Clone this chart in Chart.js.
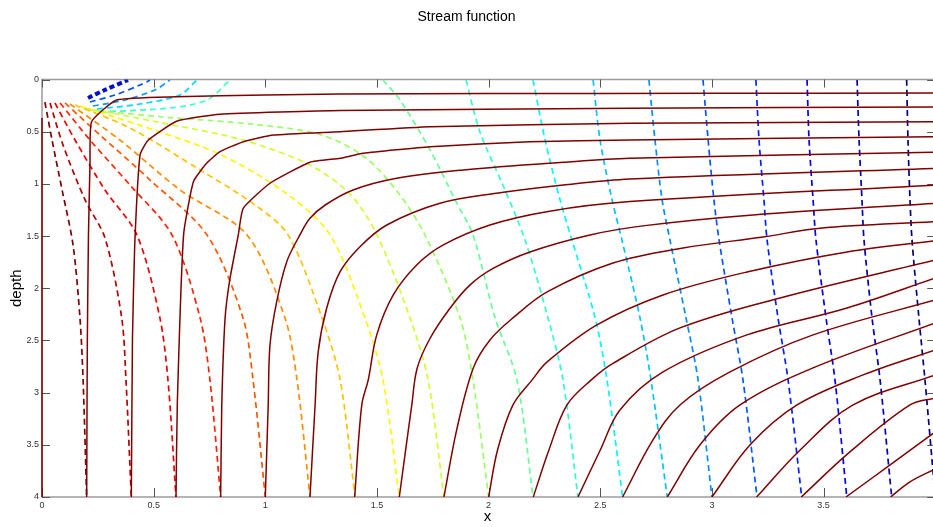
<!DOCTYPE html>
<html>
<head>
<meta charset="utf-8">
<script src="https://cdn.jsdelivr.net/npm/chart.js@4.4.0/dist/chart.umd.min.js"></script>
<style>
html, body { margin: 0; padding: 0; background: #fff; }
</style>
</head>
<body>
<canvas id="myChart" width="933" height="527"></canvas>
<script>
// axis ticks
var xTicks = [0, 0.5, 1, 1.5, 2, 2.5, 3, 3.5];
var yTicks = [0, 0.5, 1, 1.5, 2, 2.5, 3, 3.5, 4];

// stream lines (solid), [x, depth]
var s0 = [[0, 0.37], [0, 4]];
var s1 = [[0.2, 4], [0.203, 2.5], [0.208, 1.5], [0.215, 0.8], [0.222, 0.404], [0.334, 0.196], [0.6, 0.165], [1.0, 0.148], [1.335, 0.139], [2.0, 0.135], [3.0, 0.132], [4.0, 0.13]];
var s2 = [[0.4, 4], [0.405, 2.5], [0.415, 1.6], [0.439, 0.723], [0.476, 0.58], [0.603, 0.4], [0.797, 0.333], [1.335, 0.297], [2.633, 0.276], [4.0, 0.263]];
var s3 = [[0.6, 4], [0.606, 3.1], [0.634, 1.489], [0.678, 0.979], [0.737, 0.803], [0.797, 0.692], [0.902, 0.596], [1.036, 0.532], [1.335, 0.5], [1.738, 0.452], [2.633, 0.42], [4.0, 0.405]];
var s4 = [[0.8, 4], [0.805, 3.118], [0.82, 2.284], [0.842, 1.904], [0.879, 1.489], [0.901, 1.234], [1.021, 0.994], [1.2, 0.793], [1.335, 0.755], [1.438, 0.707], [1.738, 0.644], [2.185, 0.596], [2.633, 0.58], [4.0, 0.548]];
var s5 = [[1.0, 4], [1.013, 3.118], [1.021, 2.543], [1.051, 2.128], [1.096, 1.745], [1.155, 1.489], [1.2, 1.33], [1.27, 1.2], [1.393, 1.058], [1.588, 0.946], [1.887, 0.867], [2.333, 0.793], [2.633, 0.755], [4.0, 0.697]];
var s6 = [[1.2, 4], [1.223, 3.118], [1.237, 2.607], [1.275, 2.189], [1.335, 1.841], [1.424, 1.602], [1.544, 1.394], [1.782, 1.186], [2.036, 1.09], [2.335, 1.011], [2.633, 0.953], [4.0, 0.851]];
var s7 = [[1.4, 4], [1.432, 3.118], [1.461, 2.878], [1.499, 2.447], [1.573, 2.064], [1.678, 1.777], [1.797, 1.585], [2.006, 1.394], [2.26, 1.266], [2.633, 1.17], [4.0, 1.011]];
var s8 = [[1.6, 4], [1.656, 3.118], [1.68, 2.766], [1.738, 2.479], [1.827, 2.192], [1.917, 1.968], [2.02, 1.81], [2.185, 1.652], [2.454, 1.489], [2.7, 1.4], [3.184, 1.298], [4.0, 1.186]];
var s9 = [[1.8, 4], [1.857, 3.357], [1.931, 2.766], [2.006, 2.495], [2.109, 2.284], [2.262, 2.035], [2.557, 1.758], [2.871, 1.614], [3.229, 1.509], [3.484, 1.425], [4.0, 1.362]];
var s10 = [[2.0, 4], [2.04, 3.55], [2.109, 3.118], [2.195, 2.878], [2.262, 2.706], [2.485, 2.351], [2.781, 2.064], [3.157, 1.844], [3.605, 1.652], [4.0, 1.544]];
var s11 = [[2.2, 4], [2.27, 3.55], [2.351, 3.118], [2.46, 2.878], [2.557, 2.72], [2.857, 2.38], [3.305, 2.093], [4.0, 1.729]];
var s12 = [[2.4, 4], [2.5, 3.55], [2.588, 3.166], [2.781, 2.802], [3.157, 2.447], [3.605, 2.189], [4.0, 1.901]];
var s13 = [[2.6, 4], [2.736, 3.453], [2.857, 3.118], [3.081, 2.802], [3.453, 2.447], [4.0, 2.112]];
var s14 = [[2.8, 4], [2.947, 3.5], [3.126, 3.118], [3.453, 2.763], [4.0, 2.332]];
var s15 = [[3.0, 4], [3.171, 3.5], [3.381, 3.118], [3.677, 2.83], [4.0, 2.591]];
var s16 = [[3.2, 4], [3.395, 3.549], [3.632, 3.118], [4.0, 2.83]];
var s17 = [[3.4, 4], [3.618, 3.568], [3.887, 3.118], [4.0, 3.05]];
var s18 = [[3.6, 4], [3.798, 3.693], [4.0, 3.376]];
var s19 = [[3.8, 4], [3.887, 3.855], [4.0, 3.731]];

// potential lines (dashed), [x, depth]
var p1 = [[0.013, 0.216], [0.045, 0.58], [0.09, 1.058], [0.139, 1.585], [0.17, 2.284], [0.184, 2.878], [0.2, 4]];
var p2 = [[0.036, 0.225], [0.094, 0.627], [0.193, 1.154], [0.282, 1.518], [0.357, 2.284], [0.376, 2.878], [0.4, 4]];
var p3 = [[0.058, 0.225], [0.148, 0.58], [0.282, 1.058], [0.425, 1.489], [0.528, 2.284], [0.564, 2.878], [0.6, 4]];
var p4 = [[0.081, 0.225], [0.215, 0.58], [0.394, 1.011], [0.582, 1.489], [0.708, 2.284], [0.752, 2.878], [0.8, 4]];
var p5 = [[0.103, 0.225], [0.26, 0.532], [0.484, 0.963], [0.739, 1.489], [0.9, 2.284], [0.945, 2.878], [1.0, 4]];
var p6 = [[0.125, 0.235], [0.349, 0.58], [0.618, 1.058], [0.918, 1.489], [1.088, 2.284], [1.142, 2.878], [1.2, 4]];
var p7 = [[0.148, 0.244], [0.394, 0.465], [0.708, 0.867], [0.954, 1.202], [1.102, 1.489], [1.254, 2.284], [1.335, 2.878], [1.402, 4]];
var p8 = [[0.17, 0.254], [0.44, 0.44], [0.8, 0.72], [1.1, 1.1], [1.29, 1.489], [1.446, 2.284], [1.527, 2.878], [1.6, 4]];
var p9 = [[0.188, 0.273], [0.5, 0.4], [0.9, 0.58], [1.2, 0.82], [1.38, 1.1], [1.5, 1.489], [1.648, 2.284], [1.729, 2.878], [1.8, 4]];
var p10 = [[0.206, 0.292], [0.55, 0.36], [0.95, 0.43], [1.25, 0.53], [1.45, 0.75], [1.6, 1.1], [1.715, 1.489], [1.872, 2.284], [1.93, 2.878], [2.0, 4]];
var p11 = [[1.527, 0.005], [1.603, 0.196], [1.738, 0.675], [1.85, 1.154], [1.93, 1.489], [2.029, 2.284], [2.127, 2.878], [2.199, 4]];
var p12 = [[1.899, 0.005], [1.961, 0.503], [2.064, 1.011], [2.163, 1.537], [2.266, 2.284], [2.333, 2.878], [2.4, 4]];
var p13 = [[2.199, 0.005], [2.253, 0.58], [2.32, 1.154], [2.373, 1.537], [2.477, 2.284], [2.53, 2.878], [2.6, 4]];
var p14 = [[2.468, 0.005], [2.499, 0.58], [2.553, 1.154], [2.597, 1.537], [2.678, 2.284], [2.727, 2.878], [2.8, 4]];
var p15 = [[2.718, 0.005], [2.745, 0.58], [2.777, 1.154], [2.812, 1.537], [2.884, 2.284], [2.938, 2.878], [3.0, 4]];
var p16 = [[2.96, 0.005], [2.983, 0.58], [3.009, 1.154], [3.032, 1.537], [3.09, 2.284], [3.139, 2.878], [3.202, 4]];
var p17 = [[3.197, 0.005], [3.211, 0.58], [3.233, 1.154], [3.247, 1.537], [3.296, 2.284], [3.341, 2.878], [3.402, 4]];
var p18 = [[3.426, 0.005], [3.435, 0.58], [3.453, 1.154], [3.466, 1.537], [3.511, 2.284], [3.551, 2.878], [3.604, 4]];
var p19 = [[3.65, 0.005], [3.659, 0.58], [3.672, 1.154], [3.681, 1.537], [3.717, 2.284], [3.753, 2.878], [3.805, 4]];
var p20 = [[3.872, 0.005], [3.878, 0.58], [3.887, 1.154], [3.896, 1.537], [3.927, 2.284], [3.954, 2.878], [4.0, 4]];

// short potential lines between the drain and the surface
var t1 = [[0.206, 0.177], [0.282, 0.1], [0.385, 0.005]];
var t2 = [[0.215, 0.216], [0.327, 0.148], [0.439, 0.053], [0.484, 0.005]];
var t3 = [[0.228, 0.254], [0.372, 0.196], [0.506, 0.1], [0.573, 0.005]];
var t4 = [[0.246, 0.283], [0.439, 0.235], [0.618, 0.148], [0.694, 0.005]];
var t5 = [[0.26, 0.311], [0.573, 0.273], [0.739, 0.196], [0.842, 0.005]];

var streams = [s0, s1, s2, s3, s4, s5, s6, s7, s8, s9, s10, s11, s12, s13, s14, s15, s16, s17, s18, s19];
var potentials = [p1, p2, p3, p4, p5, p6, p7, p8, p9, p10, p11, p12, p13, p14, p15, p16, p17, p18, p19, p20];
var potColors = ['#800000', '#b50000', '#eb0000', '#ff2200', '#ff5700', '#ff8d00', '#ffc300', '#fff800', '#d0ff2f', '#9aff65',
                 '#65ff9a', '#2fffd0', '#00f8ff', '#00c3ff', '#008dff', '#0057ff', '#0022ff', '#0000eb', '#0000b5', '#000080'];
var tops = [t1, t2, t3, t4, t5];
var topColors = ['#0010c8', '#0050ff', '#0098ff', '#00d8ff', '#40ffc8'];

window.addEventListener('load', function(){

    function toXY(pts){
        return pts.map(function(p){ return {x: p[0], y: p[1]}; });
    }

    var datasets = [];
    streams.forEach(function(s, i){
        datasets.push({
            data: toXY(s),
            showLine: true,
            borderColor: '#7f0000',
            borderWidth: 1.5,
            pointRadius: 0,
            tension: i < 5 ? 0.15 : 0.35,
            clip: i === 0 ? 3 : 0
        });
    });
    potentials.forEach(function(p, i){
        datasets.push({
            data: toXY(p),
            showLine: true,
            borderColor: potColors[i],
            borderWidth: 1.7,
            borderDash: [6, 4],
            pointRadius: 0,
            tension: 0.3,
            clip: 0
        });
    });
    tops.forEach(function(p, i){
        datasets.push({
            data: toXY(p),
            showLine: true,
            borderColor: topColors[i],
            borderWidth: i === 0 ? 4 : 1.7,
            borderDash: i === 0 ? [5, 3] : [6, 4],
            pointRadius: 0,
            tension: 0.3,
            clip: 0
        });
    });

    // box and inward ticks, matlab style
    var frame = {
        id: 'frame',
        beforeDatasetsDraw: function(chart){
            var ctx = chart.ctx, a = chart.chartArea;
            var xs = chart.scales.x, ys = chart.scales.y;
            var right = xs.getPixelForValue(4);
            ctx.save();
            ctx.strokeStyle = '#9c9c9c';
            ctx.lineWidth = 1.5;
            ctx.strokeRect(a.left, a.top, right - a.left, a.bottom - a.top);
            ctx.strokeStyle = '#555';
            ctx.lineWidth = 1;
            ctx.beginPath();
            xTicks.forEach(function(v){
                var p = Math.round(xs.getPixelForValue(v)) + 0.5;
                ctx.moveTo(p, a.bottom); ctx.lineTo(p, a.bottom - 9);
                ctx.moveTo(p, a.top); ctx.lineTo(p, a.top + 8);
            });
            yTicks.forEach(function(v){
                var p = Math.round(ys.getPixelForValue(v)) + 0.5;
                ctx.moveTo(a.left, p); ctx.lineTo(a.left + 8, p);
                ctx.moveTo(right, p); ctx.lineTo(right - 8, p);
            });
            ctx.stroke();
            ctx.restore();
        }
    };

    function fmt(v){ return String(v); }

    Chart.defaults.font.family = '"Liberation Sans", Arial, sans-serif';

    var ctx = document.getElementById('myChart').getContext('2d');
    var chart = new Chart(ctx, {
        type: 'scatter',
        data: { datasets: datasets },
        options: {
            responsive: false,
            animation: false,
            layout: { padding: 0 },
            plugins: {
                legend: { display: false },
                tooltip: { enabled: false },
                title: {
                    display: true,
                    text: 'Stream function',
                    color: '#000',
                    font: { size: 14, weight: 'normal' },
                    padding: { top: 9, bottom: 53.7 }
                }
            },
            scales: {
                x: {
                    type: 'linear',
                    min: 0,
                    max: 3.99,
                    grid: { display: false, drawTicks: false, tickLength: 0 },
                    border: { display: false },
                    ticks: { color: '#333', font: { size: 9 }, padding: 3, maxRotation: 0, callback: fmt },
                    afterBuildTicks: function(scale){ scale.ticks = xTicks.map(function(v){ return {value: v}; }); },
                    afterFit: function(scale){ scale.height = 30; },
                    title: { display: true, text: 'x', color: '#000', font: { size: 15 }, padding: { top: 0, bottom: 1 } }
                },
                y: {
                    type: 'linear',
                    reverse: true,
                    min: 0,
                    max: 4,
                    grid: { display: false, drawTicks: false, tickLength: 0 },
                    border: { display: false },
                    ticks: { color: '#333', font: { size: 9 }, padding: 3, callback: fmt },
                    afterBuildTicks: function(scale){ scale.ticks = yTicks.map(function(v){ return {value: v}; }); },
                    afterFit: function(scale){ scale.width = 42; },
                    title: { display: true, text: 'depth', color: '#000', font: { size: 15 }, padding: { top: 8, bottom: 0 } }
                }
            }
        },
        plugins: [frame]
    });
});
</script>
</body>
</html>
